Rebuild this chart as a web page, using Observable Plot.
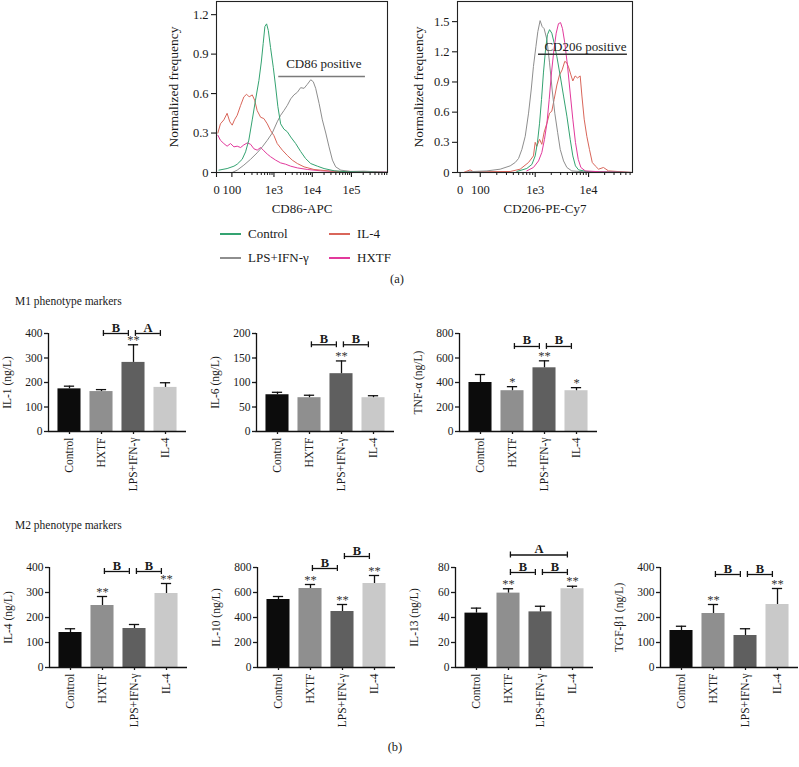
<!DOCTYPE html>
<html><head><meta charset="utf-8">
<script src="https://cdn.jsdelivr.net/npm/d3@7"></script>
<script src="https://cdn.jsdelivr.net/npm/@observablehq/plot@0.6"></script>
<style>
body{margin:0;background:#fff;overflow:hidden}
#root{position:relative;width:799px;height:767px;font-family:"Liberation Serif","DejaVu Serif",serif;color:#1a1a1a;overflow:hidden}
.abs{position:absolute}
.lbl{position:absolute;white-space:nowrap;transform:translate(-50%,-50%)}
.lft{position:absolute;white-space:nowrap;transform:translate(0,-50%)}
</style></head><body><div id="root"></div>
<script>
// ---------- Flow cytometry histograms (x in display channel units 0..1000) ----------
const cd86Ticks = [0, 90, 336, 560, 789];
const cd86TickLabels = ["0", "100", "1e3", "1e4", "1e5"];
const cd206Ticks = [15, 130, 444, 749];
const cd206TickLabels = ["0", "100", "1e3", "1e4"];
const histColors = {Control: "#34a371", "IL-4": "#d9665a", "LPS+IFN-γ": "#8e8e8e", HXTF: "#e2399c"};

const cd86Control = [[14,0.018],[62,0.03],[102,0.048],[121,0.063],[150,0.10],[170,0.157],[189,0.246],[209,0.40],[228,0.55],[248,0.70],[262,0.84],[273,0.98],[283,1.11],[293,1.13],[303,1.08],[316,0.95],[332,0.80],[346,0.65],[359,0.50],[375,0.37],[394,0.33],[414,0.31],[434,0.27],[463,0.22],[492,0.16],[521,0.106],[551,0.068],[590,0.048],[629,0.03],[688,0.013],[766,0.005],[863,0.003],[1000,0]];
const cd86IL4 = [[8,0.30],[23,0.37],[43,0.40],[62,0.45],[78,0.385],[92,0.36],[105,0.40],[121,0.435],[141,0.51],[160,0.575],[176,0.595],[191,0.575],[209,0.59],[223,0.55],[238,0.47],[258,0.42],[277,0.41],[297,0.37],[316,0.32],[336,0.28],[355,0.22],[385,0.17],[414,0.13],[443,0.094],[473,0.068],[512,0.043],[570,0.023],[668,0.01],[824,0.005],[1000,0]];
const cd86HXTF = [[8,0.283],[23,0.245],[43,0.22],[62,0.20],[82,0.22],[102,0.195],[121,0.20],[141,0.19],[160,0.21],[180,0.225],[199,0.215],[219,0.18],[238,0.17],[258,0.19],[277,0.165],[297,0.14],[316,0.12],[346,0.094],[375,0.073],[404,0.063],[434,0.048],[473,0.035],[531,0.023],[609,0.013],[707,0.008],[863,0.005],[1000,0.003]];
const cd86LPS = [[92,0],[121,0.018],[160,0.056],[199,0.10],[238,0.15],[268,0.195],[297,0.245],[326,0.30],[355,0.385],[375,0.435],[394,0.47],[414,0.51],[434,0.56],[453,0.59],[473,0.61],[492,0.645],[512,0.64],[531,0.67],[551,0.705],[566,0.69],[580,0.64],[600,0.525],[619,0.40],[639,0.30],[658,0.195],[678,0.094],[697,0.043],[727,0.018],[785,0.008],[863,0.01],[941,0.005],[1000,0.003]];

const cd206Control = [[339,0.01],[396,0.04],[425,0.08],[444,0.165],[457,0.30],[469,0.49],[480,0.725],[491,0.99],[503,1.22],[514,1.37],[526,1.42],[539,1.385],[552,1.29],[568,1.15],[587,0.96],[606,0.76],[625,0.56],[644,0.33],[659,0.165],[674,0.066],[692,0.026],[739,0.01],[1000,0]];
const cd206IL4 = [[34,0],[72,0.026],[91,0.007],[301,0.01],[358,0.033],[406,0.10],[434,0.165],[444,0.30],[453,0.26],[469,0.33],[482,0.28],[495,0.40],[511,0.49],[526,0.59],[539,0.61],[552,0.725],[568,0.87],[583,0.97],[598,1.02],[613,1.105],[625,1.09],[636,1.04],[648,0.97],[659,0.91],[672,0.96],[686,0.94],[701,0.96],[711,0.76],[724,0.53],[739,0.36],[754,0.23],[770,0.10],[787,0.066],[806,0.033],[834,0.05],[863,0.016],[1000,0]];
const cd206HXTF = [[396,0.016],[434,0.05],[463,0.115],[482,0.20],[497,0.33],[511,0.49],[524,0.725],[537,0.99],[551,1.22],[564,1.385],[577,1.48],[589,1.49],[600,1.43],[613,1.29],[629,1.055],[644,0.79],[659,0.53],[674,0.30],[690,0.13],[705,0.05],[730,0.016],[815,0.007],[1000,0]];
const cd206LPS = [[53,0.007],[168,0.016],[244,0.033],[301,0.066],[330,0.10],[349,0.14],[368,0.23],[387,0.36],[406,0.59],[421,0.82],[434,1.055],[448,1.25],[459,1.40],[472,1.51],[484,1.45],[495,1.43],[511,1.32],[526,1.09],[541,0.82],[556,0.59],[572,0.40],[587,0.23],[606,0.115],[625,0.05],[653,0.016],[720,0.007],[1000,0]];

// ---------- Cytokine bar charts ----------
const groups = ["Control", "HXTF", "LPS+IFN-γ", "IL-4"];
const barColors = ["#0c0c0c", "#8f8f8f", "#5f5f5f", "#c9c9c9"];

const il1Mean = [174, 163, 282, 180];   const il1Sd = [11, 8, 72, 19];
const il1Stars = ["", "", "**", ""];
const il1Brackets = [["HXTF", "LPS+IFN-γ", 400, "B"], ["LPS+IFN-γ", "IL-4", 400, "A"]];

const il6Mean = [75, 69, 118, 69];       const il6Sd = [5, 5, 26, 4];
const il6Stars = ["", "", "**", ""];
const il6Brackets = [["HXTF", "LPS+IFN-γ", 177, "B"], ["LPS+IFN-γ", "IL-4", 177, "B"]];

const tnfMean = [400, 333, 520, 333];    const tnfSd = [65, 33, 57, 25];
const tnfStars = ["", "*", "**", "*"];
const tnfBrackets = [["HXTF", "LPS+IFN-γ", 694, "B"], ["LPS+IFN-γ", "IL-4", 694, "B"]];

const il4Mean = [140, 248, 156, 296];    const il4Sd = [15, 36, 16, 40];
const il4Stars = ["", "**", "", "**"];
const il4Brackets = [["HXTF", "LPS+IFN-γ", 384, "B"], ["LPS+IFN-γ", "IL-4", 384, "B"]];

const il10Mean = [544, 632, 448, 672];   const il10Sd = [24, 32, 56, 64];
const il10Stars = ["", "**", "**", "**"];
const il10Brackets = [["HXTF", "LPS+IFN-γ", 792, "B"], ["LPS+IFN-γ", "IL-4", 888, "B"]];

const il13Mean = [43.5, 59.5, 44.5, 63]; const il13Sd = [4, 3.5, 4.5, 2];
const il13Stars = ["", "**", "", "**"];
const il13Brackets = [["HXTF", "IL-4", 90, "A"], ["HXTF", "LPS+IFN-γ", 76, "B"], ["LPS+IFN-γ", "IL-4", 76, "B"]];

const tgfMean = [148, 216, 128, 252];    const tgfSd = [17, 36, 27, 64];
const tgfStars = ["", "**", "", "**"];
const tgfBrackets = [["HXTF", "LPS+IFN-γ", 372, "B"], ["LPS+IFN-γ", "IL-4", 372, "B"]];

// ---------- helpers ----------
const root = document.getElementById("root");
const FONT = "Liberation Serif, DejaVu Serif, serif";
function place(node, left, top) {
  const d = document.createElement("div");
  d.className = "abs"; d.style.left = left + "px"; d.style.top = top + "px";
  d.appendChild(node); root.appendChild(d);
}
function label(text, x, y, size, cls = "lbl") {
  const d = document.createElement("div");
  d.className = cls; d.textContent = text;
  d.style.left = x + "px"; d.style.top = y + "px"; d.style.fontSize = size + "px";
  root.appendChild(d);
}
function legendItem(text, color, x, y) {
  const l = document.createElement("div");
  l.className = "abs";
  Object.assign(l.style, {left: x + "px", top: (y - 1) + "px", width: "21px", height: "2px", background: color});
  root.appendChild(l);
  label(text, x + 28, y, 13, "lft");
}
function minorTicks(decades) {
  const out = [];
  for (const [a, b] of decades) for (let k = 2; k <= 9; k++) {
    const v = a + (b - a) * Math.log10(k);
    if (v <= 1000) out.push(v);
  }
  return out;
}
const svgStyle = {fontFamily: FONT, background: "transparent", overflow: "visible", maxWidth: "none", color: "#1a1a1a"};

function histogram({series, yMax, yTicks, xTicks, xLabels, minor, gate, width, marginLeft, marginRight, xTitle, yTitleDx, gateColor}) {
  const height = 217;
  return Plot.plot({
    width, height, marginLeft, marginRight, marginTop: 1, marginBottom: 45,
    style: svgStyle,
    x: {domain: [0, 1000]},
    y: {domain: [0, yMax]},
    marks: [
      ...series.map(s => Plot.line(s.data, {x: d => d[0], y: d => d[1], stroke: s.color, strokeWidth: 1})),
      Plot.frame({stroke: "#222", strokeWidth: 1.1}),
      Plot.axisY({ticks: yTicks, tickFormat: d => d === 0 ? "0" : d.toFixed(1), tickSize: 5, tickPadding: 3, fontSize: 12.5, label: null, strokeWidth: 1.1}),
      Plot.axisX({ticks: xTicks, tickFormat: d => xLabels[xTicks.indexOf(d)], tickSize: 5, tickPadding: 8, fontSize: 12.5, label: null, strokeWidth: 1.1}),
      Plot.axisX({ticks: minor, tickFormat: () => "", tickSize: 3, label: null}),
      Plot.ruleY([gate], {x1: d => d.x1, x2: d => d.x2, y: d => d.y, stroke: gateColor, strokeWidth: 1.4}),
      Plot.text([gate], {x: d => d.tx, y: d => d.ty, text: d => d.text, fontSize: 13, fill: "#222"}),
      Plot.text([xTitle], {frameAnchor: "bottom", dy: 36, lineAnchor: "middle", textAnchor: "middle", text: d => d, fontSize: 13}),
      Plot.text(["Normalized frequency"], {frameAnchor: "left", dx: yTitleDx, rotate: -90, textAnchor: "middle", lineAnchor: "middle", text: d => d, fontSize: 13.5})
    ]
  });
}

function barPanel({mean, sd, stars, brackets, yMax, yTicks, yLabel, marginTop, frameH}) {
  const xd = [-0.656, 3.656];
  const rows = groups.map((g, i) => ({g, i, m: mean[i], s: sd[i], star: stars[i]}));
  const br = brackets.map(([from, to, at, lab]) => ({x1: groups.indexOf(from) + 0.06, x2: groups.indexOf(to) - 0.16, y: at, lab}));
  const cap = yMax * 0.03;
  const ink = "#111";
  return Plot.plot({
    width: 44 + 138 + 1, height: marginTop + frameH + 80,
    marginLeft: 44, marginRight: 1, marginTop, marginBottom: 80,
    style: svgStyle,
    x: {domain: xd},
    y: {domain: [0, yMax]},
    color: {domain: groups, range: barColors},
    marks: [
      Plot.rectY(rows, {x1: d => d.i - 0.36, x2: d => d.i + 0.36, y1: 0, y2: d => d.m, fill: d => d.g}),
      Plot.ruleX(rows, {x: d => d.i, y1: d => d.m, y2: d => d.m + d.s, stroke: ink, strokeWidth: 1.3}),
      Plot.ruleY(rows, {x1: d => d.i - 0.16, x2: d => d.i + 0.16, y: d => d.m + d.s, stroke: ink, strokeWidth: 1.3}),
      Plot.text(rows.filter(d => d.star), {x: d => d.i, y: d => d.m + d.s, text: d => d.star, lineAnchor: "bottom", dy: -1, fontSize: 12.5, fill: "#333"}),
      Plot.ruleY(br, {x1: d => d.x1, x2: d => d.x2, y: d => d.y, stroke: ink, strokeWidth: 1.3}),
      Plot.ruleX(br, {x: d => d.x1, y1: d => d.y - cap, y2: d => d.y + cap, stroke: ink, strokeWidth: 1.3}),
      Plot.ruleX(br, {x: d => d.x2, y1: d => d.y - cap, y2: d => d.y + cap, stroke: ink, strokeWidth: 1.3}),
      Plot.text(br, {x: d => (d.x1 + d.x2) / 2, y: d => d.y, text: d => d.lab, lineAnchor: "bottom", dy: -2, fontSize: 12.5, fontWeight: 600}),
      Plot.ruleY([0], {stroke: ink, strokeWidth: 1.3}),
      Plot.ruleX([xd[0]], {stroke: ink, strokeWidth: 1.3}),
      Plot.axisY({ticks: yTicks, tickSize: 4, tickPadding: 2, fontSize: 11.5, label: null, strokeWidth: 1.3}),
      Plot.axisX({ticks: [0, 1, 2, 3], tickFormat: i => groups[i], tickRotate: -90, tickSize: 3, tickPadding: 3, fontSize: 11.5, label: null, strokeWidth: 1.3}),
      Plot.text([yLabel], {frameAnchor: "left", dx: -41, rotate: -90, textAnchor: "middle", lineAnchor: "middle", text: d => d, fontSize: 11.5})
    ]
  });
}

// ---------- Panel (a) ----------
place(histogram({
  series: [
    {data: cd86HXTF, color: histColors.HXTF},
    {data: cd86IL4, color: histColors["IL-4"]},
    {data: cd86LPS, color: histColors["LPS+IFN-γ"]},
    {data: cd86Control, color: histColors.Control}
  ],
  yMax: 1.3, yTicks: [0, 0.3, 0.6, 0.9, 1.2],
  xTicks: cd86Ticks, xLabels: cd86TickLabels,
  minor: minorTicks([[90, 336], [336, 560], [560, 789], [789, 1018]]),
  gate: {x1: 364, x2: 871, y: 0.73, tx: 628, ty: 0.825, text: "CD86 positive"},
  gateColor: "#7a7a7a",
  width: 270, marginLeft: 86, marginRight: 13, xTitle: "CD86-APC", yTitleDx: -43
}), 130, 0);

place(histogram({
  series: [
    {data: cd206IL4, color: histColors["IL-4"]},
    {data: cd206LPS, color: histColors["LPS+IFN-γ"]},
    {data: cd206Control, color: histColors.Control},
    {data: cd206HXTF, color: histColors.HXTF}
  ],
  yMax: 1.7, yTicks: [0, 0.3, 0.6, 0.9, 1.2, 1.5],
  xTicks: cd206Ticks, xLabels: cd206TickLabels,
  minor: minorTicks([[130, 444], [444, 749], [749, 1054]]),
  gate: {x1: 463, x2: 971, y: 1.175, tx: 731, ty: 1.25, text: "CD206 positive"},
  gateColor: "#333",
  width: 260, marginLeft: 57, marginRight: 28, xTitle: "CD206-PE-Cy7", yTitleDx: -39
}), 400, 0);

legendItem("Control", histColors.Control, 220, 234);
legendItem("IL-4", histColors["IL-4"], 329, 234);
legendItem("LPS+IFN-γ", histColors["LPS+IFN-γ"], 220, 258);
legendItem("HXTF", histColors.HXTF, 329, 258);
label("(a)", 397, 279, 12.5);

// ---------- Panel (b) ----------
label("M1 phenotype markers", 15, 301, 11.5, "lft");
label("M2 phenotype markers", 15, 525, 11.5, "lft");
label("(b)", 395, 747, 12.5);

const m1 = {marginTop: 30, frameH: 98};
const m2 = {marginTop: 35, frameH: 100};
place(barPanel({...m1, mean: il1Mean, sd: il1Sd, stars: il1Stars, brackets: il1Brackets, yMax: 400, yTicks: [0, 100, 200, 300, 400], yLabel: "IL-1 (ng/L)"}), 4, 303);
place(barPanel({...m1, mean: il6Mean, sd: il6Sd, stars: il6Stars, brackets: il6Brackets, yMax: 200, yTicks: [0, 50, 100, 150, 200], yLabel: "IL-6 (ng/L)"}), 212, 303);
place(barPanel({...m1, mean: tnfMean, sd: tnfSd, stars: tnfStars, brackets: tnfBrackets, yMax: 800, yTicks: [0, 200, 400, 600, 800], yLabel: "TNF-α (ng/L)"}), 415, 303);

place(barPanel({...m2, mean: il4Mean, sd: il4Sd, stars: il4Stars, brackets: il4Brackets, yMax: 400, yTicks: [0, 100, 200, 300, 400], yLabel: "IL-4 (ng/L)"}), 5, 532);
place(barPanel({...m2, mean: il10Mean, sd: il10Sd, stars: il10Stars, brackets: il10Brackets, yMax: 800, yTicks: [0, 200, 400, 600, 800], yLabel: "IL-10 (ng/L)"}), 213, 532);
place(barPanel({...m2, mean: il13Mean, sd: il13Sd, stars: il13Stars, brackets: il13Brackets, yMax: 80, yTicks: [0, 20, 40, 60, 80], yLabel: "IL-13 (ng/L)"}), 411, 532);
place(barPanel({...m2, mean: tgfMean, sd: tgfSd, stars: tgfStars, brackets: tgfBrackets, yMax: 400, yTicks: [0, 100, 200, 300, 400], yLabel: "TGF-β1 (ng/L)"}), 616, 532);
</script></body></html>
